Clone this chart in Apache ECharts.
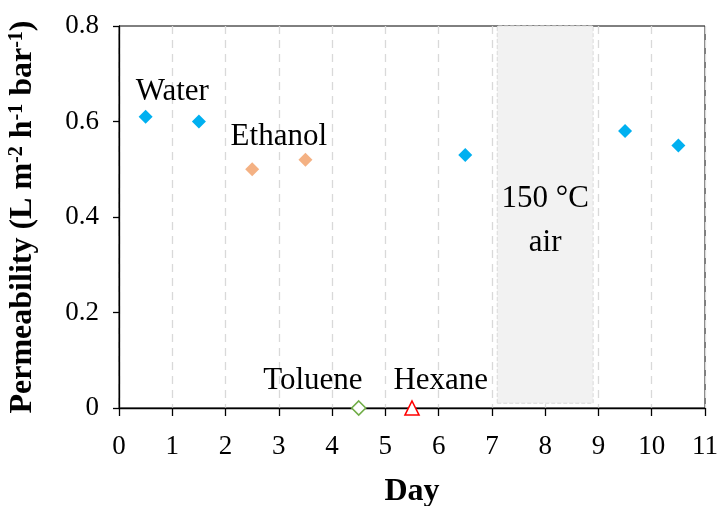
<!DOCTYPE html>
<html>
<head>
<meta charset="utf-8">
<script src="https://cdn.jsdelivr.net/npm/echarts@6/dist/echarts.min.js"></script>
<style>html,body{margin:0;padding:0;background:#fff;}#c{width:717px;height:506px;}</style>
</head>
<body>
<div id="c"></div>
<script>
// Data
const waterDays = [0.5, 1.5, 6.5, 9.5, 10.5];
const waterValues = [0.61, 0.60, 0.53, 0.58, 0.55];
const ethanolDays = [2.5, 3.5];
const ethanolValues = [0.50, 0.52];
const tolueneDays = [4.5];
const tolueneValues = [0];
const hexaneDays = [5.5];
const hexaneValues = [0];
const labelNames = ['Water', 'Ethanol', 'Toluene', 'Hexane', '150 °C', 'air'];
const labelDays = [1.0, 3.0, 3.64, 6.04, 8.0, 8.0];
const labelValues = [0.662, 0.567, 0.057, 0.057, 0.438, 0.345];
const shadeDays = [7.1, 8.9];
const shadeValues = [0.01, 0.8];
const xTicks = [0, 1, 2, 3, 4, 5, 6, 7, 8, 9, 10, 11];
const yTicks = [0, 0.2, 0.4, 0.6, 0.8];

const FONT = 'Liberation Serif';
const pair = (xs, ys) => xs.map((x, i) => [x, ys[i]]);

const chart = echarts.init(document.getElementById('c'), null, {renderer: 'canvas'});
chart.setOption({
  backgroundColor: '#fff',
  animation: false,
  grid: {left: 119, right: 12, top: 26, bottom: 98, show: true, borderColor: '#000', borderWidth: 1,
         backgroundColor: 'transparent', containLabel: false, outerBoundsMode: 'none'},
  xAxis: {
    type: 'value', min: xTicks[0], max: xTicks[xTicks.length - 1], interval: 1,
    axisLine: {show: true, lineStyle: {color: '#000', width: 1.3}},
    axisTick: {show: true, length: 8, lineStyle: {color: '#000', width: 1.3}},
    axisLabel: {color: '#000', fontFamily: FONT, fontSize: 27, margin: 25},
    splitLine: {show: true, lineStyle: {color: '#d9d9d9', type: [8, 6], width: 1.3}},
    name: 'Day', nameLocation: 'middle', nameGap: 68,
    nameTextStyle: {color: '#000', fontFamily: FONT, fontSize: 32, fontWeight: 'bold'}
  },
  yAxis: {
    type: 'value', min: yTicks[0], max: yTicks[yTicks.length - 1], interval: 0.2,
    axisLine: {show: true, lineStyle: {color: '#000', width: 1.3}},
    axisTick: {show: true, length: 6, lineStyle: {color: '#000', width: 1.3}},
    axisLabel: {color: '#000', fontFamily: FONT, fontSize: 27, margin: 20},
    splitLine: {show: false},
    name: '{b|Permeability (L m}{s|-2}{b| h}{s|-1}{b| bar}{s|-1}{b|)}',
    nameLocation: 'middle', nameGap: 80, nameRotate: 90,
    nameTextStyle: {
      color: '#000',
      rich: {
        b: {fontFamily: FONT, fontSize: 32, fontWeight: 'bold', color: '#000', lineHeight: 32},
        s: {fontFamily: FONT, fontSize: 20, fontWeight: 'bold', color: '#000', verticalAlign: 'top', lineHeight: 32, padding: [0, 0, 12, 0]}
      }
    }
  },
  series: [
    {
      name: 'shade', type: 'scatter', data: [], silent: true,
      markArea: {
        silent: true,
        itemStyle: {color: '#f2f2f2', borderColor: '#d9d9d9', borderWidth: 1, borderType: 'dashed', opacity: 1},
        data: [[{xAxis: shadeDays[0], yAxis: shadeValues[0]}, {xAxis: shadeDays[1], yAxis: shadeValues[1]}]]
      }
    },
    {
      name: 'Water', type: 'scatter', symbol: 'diamond', symbolSize: 14,
      itemStyle: {color: '#00b0f0', opacity: 1}, data: pair(waterDays, waterValues), z: 5
    },
    {
      name: 'Ethanol', type: 'scatter', symbol: 'diamond', symbolSize: 14,
      itemStyle: {color: '#f4b183', opacity: 1}, data: pair(ethanolDays, ethanolValues), z: 5
    },
    {
      name: 'Toluene', type: 'scatter', symbol: 'diamond', symbolSize: 14,
      itemStyle: {color: '#fff', borderColor: '#70ad47', borderWidth: 1.6, opacity: 1}, data: pair(tolueneDays, tolueneValues), z: 5
    },
    {
      name: 'Hexane', type: 'scatter', symbol: 'triangle', symbolSize: 14,
      itemStyle: {color: '#fff', borderColor: '#ff0000', borderWidth: 1.6, opacity: 1}, data: pair(hexaneDays, hexaneValues), z: 5
    },
    {
      name: 'labels', type: 'scatter', symbolSize: 0, silent: true, z: 6,
      itemStyle: {opacity: 1},
      data: labelNames.map((n, i) => ({name: n, value: [labelDays[i], labelValues[i]]})),
      label: {show: true, position: 'inside', formatter: p => p.name, color: '#000', fontFamily: FONT, fontSize: 31,
              textBorderWidth: 0, opacity: 1}
    }
  ]
});
</script>
</body>
</html>
